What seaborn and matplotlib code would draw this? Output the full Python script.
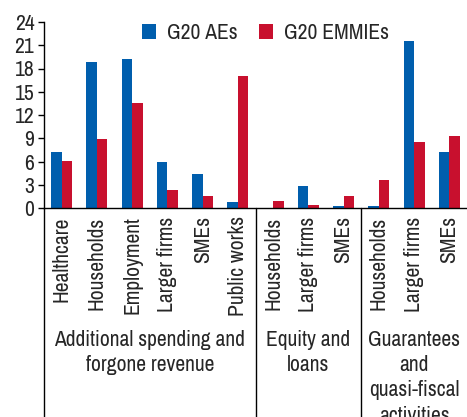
import matplotlib
matplotlib.use('Agg')
import matplotlib.pyplot as plt
import seaborn as sns
import pandas as pd

# categories and values (percent of GDP)
categories = ['Healthcare', 'Households', 'Employment', 'Larger firms', 'SMEs', 'Public works',
              'Households', 'Larger firms', 'SMEs',
              'Households', 'Larger firms', 'SMEs']
g20_aes = [7.2, 18.8, 19.2, 5.9, 4.4, 0.8, 0.0, 2.8, 0.25, 0.25, 21.5, 7.2]
g20_emmies = [6.1, 8.9, 13.5, 2.3, 1.55, 17.0, 0.85, 0.4, 1.55, 3.6, 8.5, 9.3]
groups = ['Additional spending and\nforgone revenue', 'Equity and\nloans',
          'Guarantees\nand\nquasi-fiscal\nactivities']
group_sizes = [6, 3, 3]
series = ['G20 AEs', 'G20 EMMIEs']
colors = {'G20 AEs': '#005EAD', 'G20 EMMIEs': '#C8102E'}

keys = [f'{i}' for i in range(len(categories))]
df = pd.concat([
    pd.DataFrame({'key': keys, 'value': g20_aes, 'series': series[0]}),
    pd.DataFrame({'key': keys, 'value': g20_emmies, 'series': series[1]}),
])

sns.set_style('white')
plt.rcParams['font.family'] = ['Liberation Sans Narrow', 'Archivo Narrow', 'DejaVu Sans']
plt.rcParams['font.size'] = 15.5

fig = plt.figure(figsize=(4.67, 4.17), dpi=100)
ax = fig.add_axes([44 / 467, 209 / 417, 1 - 44 / 467, 186 / 417])

sns.barplot(data=df, x='key', y='value', hue='series', order=keys, hue_order=series,
            palette=colors, saturation=1, width=0.6, errorbar=None, linewidth=0, ax=ax)

ax.set_xlim(-0.5, len(categories) - 0.5)
ax.set_ylim(0, 24)
ax.set_yticks(range(0, 25, 3))
ax.set_xlabel('')
ax.set_ylabel('')
ax.set_xticks(range(len(categories)))
ax.set_xticklabels(categories, rotation=90, va='top', ha='center')
ax.set_xticks([i + 0.5 for i in range(len(categories) - 1)], minor=True)
ax.tick_params(axis='x', which='major', length=0, pad=6, labelsize=15.5)
ax.tick_params(axis='x', which='minor', direction='in', length=6, width=1, color='black')
ax.tick_params(axis='y', direction='out', length=4, width=1, pad=3, labelsize=15.5,
               left=True, color='black')

for side in ['top', 'right']:
    ax.spines[side].set_visible(False)
for side in ['left', 'bottom']:
    ax.spines[side].set_color('black')
    ax.spines[side].set_linewidth(1)

# left spine and group separators run down to the bottom of the figure
trans = ax.get_xaxis_transform()
ax.plot([-0.5, -0.5], [0, -1.15], transform=trans, color='black', lw=1, clip_on=False)
start = 0
for size, name in zip(group_sizes, groups):
    end = start + size
    if end < len(categories):
        ax.plot([end - 0.5, end - 0.5], [0, -1.15], transform=trans, color='black',
                lw=1, clip_on=False)
    ax.text((start + end - 1) / 2, -0.655, name, transform=trans, ha='center', va='top',
            fontsize=15.5, linespacing=1.33)
    start = end

handles, labels = ax.get_legend_handles_labels()
ax.legend(handles, labels, loc='upper left', bbox_to_anchor=(142 / 467, 1 - 23 / 417),
          bbox_transform=fig.transFigure, ncol=2, frameon=False, fontsize=15.5,
          handlelength=0.65, handleheight=0.65, handletextpad=0.5, columnspacing=1.0,
          borderaxespad=0, borderpad=0)

fig.savefig('out.png', dpi=100)
